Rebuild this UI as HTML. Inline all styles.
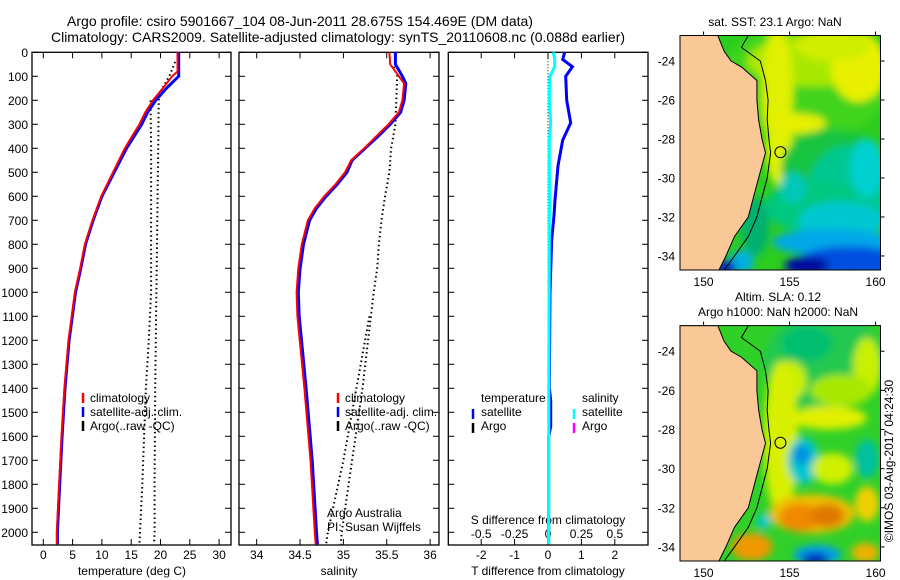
<!DOCTYPE html>
<html><head><meta charset="utf-8"><style>
html,body{margin:0;padding:0;background:#fff;}
svg{display:block;font-family:"Liberation Sans",sans-serif;}
</style></head><body>
<svg id="fig" width="900" height="580" viewBox="0 0 900 580" xmlns="http://www.w3.org/2000/svg">
<defs>
<filter id="blur1" x="-20%" y="-20%" width="140%" height="140%"><feGaussianBlur stdDeviation="4"/></filter>
<clipPath id="clipM1"><rect x="680" y="35.5" width="200.5" height="234.5"/></clipPath>
<clipPath id="clipM2"><rect x="680" y="325.6" width="200.5" height="235.4"/></clipPath>
</defs>
<text x="300" y="26" font-size="14" text-anchor="middle">Argo profile: csiro 5901667_104 08-Jun-2011 28.675S 154.469E (DM data)</text>
<text x="338" y="42" font-size="14" text-anchor="middle">Climatology: CARS2009. Satellite-adjusted climatology: synTS_20110608.nc (0.088d earlier)</text>
<g id="p1"></g>
<g id="p2"></g>
<g id="p3"></g>
<g id="m1"></g>
<g id="m2"></g>
<text x="775" y="26" font-size="12" text-anchor="middle">sat. SST: 23.1  Argo: NaN</text>
<text x="778" y="301" font-size="12" text-anchor="middle">Altim. SLA: 0.12</text>
<text x="778" y="316" font-size="12" text-anchor="middle">Argo h1000: NaN h2000: NaN</text>
<text transform="translate(893,461) rotate(-90)" font-size="12" text-anchor="middle">©IMOS 03-Aug-2017 04:24:30</text>
</svg>
<script>
// ---- data ----
const depthClim = [0,80,100,150,200,250,300,400,500,600,700,800,900,1000,1200,1400,1600,1800,2000,2050];
const tempClim = [22.9,22.9,22.0,20.4,18.7,17.4,16.4,13.9,11.9,9.9,8.4,7.1,6.3,5.4,4.3,3.6,3.1,2.7,2.3,2.3];
const tempSat  = [23.1,23.1,23.1,21.0,19.2,17.8,16.8,14.2,12.1,10.0,8.5,7.2,6.4,5.5,4.4,3.7,3.2,2.8,2.4,2.4];
const argoTDepth1 = [40,100,150,200,400,600,800,1000,1400,1800,2000,2050];
const argoT1 = [22.5,21.5,20.3,19.7,19.6,19.5,19.4,19.3,19.1,19.0,19.0,18.9];
const argoTDepth2 = [200,400,600,800,1000,1200,1400,1600,1800,2000,2050];
const argoT2 = [18.3,18.4,18.4,18.4,18.4,18.0,17.5,17.2,16.9,16.5,16.4];
const depthSal = [0,50,100,130,200,250,300,350,400,450,500,550,600,650,700,800,900,1000,1100,1400,1700,2000,2050];
const salClim = [35.53,35.54,35.64,35.70,35.68,35.64,35.52,35.38,35.24,35.09,35.02,34.91,34.78,34.67,34.59,34.52,34.48,34.46,34.47,34.55,34.62,34.67,34.68];
const salSat  = [35.60,35.60,35.68,35.72,35.70,35.66,35.54,35.40,35.25,35.10,35.04,34.93,34.80,34.69,34.61,34.54,34.50,34.48,34.49,34.57,34.64,34.69,34.70];
const argoSDepth1 = [60,100,200,300,400,500,600,700,800,900,1000,1400,1700,2000,2050];
const argoS1 = [35.58,35.62,35.61,35.60,35.55,35.53,35.48,35.44,35.41,35.39,35.35,35.22,35.10,34.98,34.97];
const argoSDepth2 = [1100,1400,1700,2000,2050];
const argoS2 = [35.30,35.15,35.00,34.82,34.80];
const diffDepth = [0,30,60,100,200,294,366,473,615,680,780,1000,1400,1450,1560,1600,2050];
const diffT = [0.50,0.44,0.73,0.53,0.56,0.68,0.44,0.30,0.21,0.18,0.11,0.06,0.04,0.08,0.08,0.02,0.02];
const diffS = [0.04,0.05,0.05,0.015,0.01,0.02,0.01,0.01,0.012,0.01,0.01,0.008,0.006,0.006,0.006,0.005,0.005];
const depthTicks = [0,100,200,300,400,500,600,700,800,900,1000,1100,1200,1300,1400,1500,1600,1700,1800,1900,2000];
const tempTicks = [0,5,10,15,20,25,30];
const salTicks = [34,34.5,35,35.5,36];
const tdTicks = [-2,-1,0,1,2];
const sdTicks = [-0.5,-0.25,0,0.25,0.5];
const sdLabels = ['-0.5','-0.25','0','0.25','0.5'];
const latTicks = [-24,-26,-28,-30,-32,-34];
const lonTicks = [150,155,160];
const coastLat = [-22.69,-23.5,-24,-24.3,-25,-26,-27,-28,-28.7,-30,-31,-32,-33,-34,-34.72];
const coastLon = [150.83,151.2,151.6,152.2,153.1,153.1,153.2,153.4,153.6,153.2,152.9,152.6,151.8,151.3,150.9];
const isoLat = [-22.69,-23.3,-24,-25,-26,-27,-28,-28.7,-30,-31,-32,-33,-34,-34.72];
const isoLon = [152.6,152.2,153.3,153.6,153.75,153.7,153.8,153.9,153.7,153.4,153.1,152.6,151.8,151.2];
const floatLon = 154.469, floatLat = -28.675;

// ---- helpers ----
const NS='http://www.w3.org/2000/svg';
function mk(parent, tag, attrs){const e=document.createElementNS(NS,tag);for(const k in attrs)e.setAttribute(k,attrs[k]);parent.appendChild(e);return e;}
const Y0=52.3, YB=545, KY=(532.3-52.3)/2000;
const yD = d => Y0 + d*KY;
const xT = v => 43.3 + v*5.86;
const xS = v => 256.7 + (v-34)*86.7;
const xTD = v => 548 + v*33.4;
const xSD = v => 548 + v*133.6;

function frame(g, x0, x1, name){
  const r = mk(g,'rect',{x:x0,y:Y0,width:x1-x0,height:YB-Y0,fill:'none',stroke:'#000','stroke-width':1.3});
  
  
  depthTicks.forEach(d=>{
    const t1=mk(g,'line',{x1:x0,x2:x0+6,y1:yD(d),y2:yD(d),stroke:'#000','stroke-width':1});
    
    
    const t2=mk(g,'line',{x1:x1-6,x2:x1,y1:yD(d),y2:yD(d),stroke:'#000','stroke-width':1});
    
    
  });
}
function xticks(g, ticks, labels, fx, by){
  ticks.forEach((v,i)=>{
    const a=mk(g,'line',{x1:fx(v),x2:fx(v),y1:Y0,y2:Y0+6,stroke:'#000','stroke-width':1});
    
    
    const b=mk(g,'line',{x1:fx(v),x2:fx(v),y1:YB-6,y2:YB,stroke:'#000','stroke-width':1});
    
    
    const t=mk(g,'text',{x:fx(v),y:by,'font-size':12,'text-anchor':'middle'});
    t.textContent=labels[i];
    
    
  });
}
function line(g, ds, vs, fx, color, w, dash, name){
  const pts = ds.map((d,i)=>fx(vs[i]).toFixed(1)+','+yD(d).toFixed(1)).join(' ');
  const p = mk(g,'polyline',{points:pts,fill:'none',stroke:color,'stroke-width':w});
  if(dash) p.setAttribute('stroke-dasharray',dash);
  
  
}
function txt(g,x,y,s,name,anchor){
  const t=mk(g,'text',{x:x,y:y,'font-size':12,'text-anchor':anchor||'start'});
  t.textContent=s;
  
  
  return t;
}
function legTick(g,x,y,color,name){
  const l=mk(g,'line',{x1:x,x2:x,y1:y-10,y2:y,stroke:color,'stroke-width':2.5});
  
  
}

// ---- panel 1 ----
const p1=document.getElementById('p1');
frame(p1,32,231,'temperature-panel');
depthTicks.forEach(d=>{txt(p1,28,yD(d)+4.5,String(d),'depth-tick-label','end');});
xticks(p1,tempTicks,tempTicks.map(String),xT,559);
txt(p1,132,575,'temperature (deg C)','temperature-axis-title','middle');
line(p1,argoTDepth1,argoT1,xT,'#000',2,'1.5,3','argo-temperature-raw');
line(p1,argoTDepth2,argoT2,xT,'#000',2,'1.5,3','argo-temperature-qc');
line(p1,depthClim,tempSat,xT,'#0000ff',3,null,'satellite-temperature-line');
line(p1,depthClim,tempClim,xT,'#ff0000',2,null,'climatology-temperature-line');
legTick(p1,83,403,'#ff0000','legend-climatology-swatch');
txt(p1,90,402,'climatology','legend-climatology');
legTick(p1,83,417,'#0000ff','legend-satellite-swatch');
txt(p1,90,416,'satellite-adj. clim.','legend-satellite');
legTick(p1,83,431,'#000','legend-argo-swatch');
txt(p1,90,430,'Argo(..raw -QC)','legend-argo');

// ---- panel 2 ----
const p2=document.getElementById('p2');
frame(p2,239,439,'salinity-panel');
xticks(p2,salTicks,salTicks.map(String),xS,559);
txt(p2,339,575,'salinity','salinity-axis-title','middle');
line(p2,argoSDepth1,argoS1,xS,'#000',2,'1.5,3','argo-salinity-raw');
line(p2,argoSDepth2,argoS2,xS,'#000',2,'1.5,3','argo-salinity-qc');
line(p2,depthSal,salSat,xS,'#0000ff',3,null,'satellite-salinity-line');
line(p2,depthSal,salClim,xS,'#ff0000',2,null,'climatology-salinity-line');
legTick(p2,338,403,'#ff0000','legend-climatology-swatch');
txt(p2,345,402,'climatology','legend-climatology');
legTick(p2,338,417,'#0000ff','legend-satellite-swatch');
txt(p2,345,416,'satellite-adj. clim.','legend-satellite');
legTick(p2,338,431,'#000','legend-argo-swatch');
txt(p2,345,430,'Argo(..raw -QC)','legend-argo');
txt(p2,327,517,'Argo Australia','credit-argo-australia');
txt(p2,327,531,'PI: Susan Wijffels','credit-pi');

// ---- panel 3 ----
const p3=document.getElementById('p3');
frame(p3,448.3,648,'difference-panel');
xticks(p3,tdTicks,tdTicks.map(String),xTD,559);
txt(p3,548,575,'T difference from climatology','t-diff-axis-title','middle');
txt(p3,548,524,'S difference from climatology','s-diff-axis-title','middle');
sdTicks.forEach((v,i)=>{txt(p3,xSD(v),538,sdLabels[i],'s-diff-tick-label','middle');});
line(p3,[0,2050],[0,0],xTD,'#000',1,'1,2','zero-line');
line(p3,diffDepth,diffT,xTD,'#0000ff',3,null,'temperature-diff-satellite');
line(p3,diffDepth,diffS,xSD,'#00ffff',3,null,'salinity-diff-satellite');
txt(p3,481,402,'temperature','legend-temperature-header');
legTick(p3,473,419,'#0000ff','legend-t-satellite-swatch');
txt(p3,481,416,'satellite','legend-t-satellite');
legTick(p3,473,433,'#000','legend-t-argo-swatch');
txt(p3,481,430,'Argo','legend-t-argo');
txt(p3,582,402,'salinity','legend-salinity-header');
legTick(p3,574,419,'#00ffff','legend-s-satellite-swatch');
txt(p3,582,416,'satellite','legend-s-satellite');
legTick(p3,574,433,'#ff00ff','legend-s-argo-swatch');
txt(p3,582,430,'Argo','legend-s-argo');

// ---- maps ----
const MX0=680, MX1=880.5, KX=17.2, LON0=148.63;
const mxf = lon => MX0 + (lon-LON0)*KX;
const sst1 = [ // lon, lat, rx(deg), ry(deg), color
 [156,-25,5,3,'#40d41a'],[156.5,-24,4,1.3,'#a8e800'],[159,-24.3,1.6,1.8,'#e8f000'],[157.5,-23.2,2.2,0.8,'#d0ee00'],
 [154.3,-25.5,0.9,3.2,'#e0f000'],[154.4,-28.4,0.8,2.0,'#e0f000'],[155.5,-27.2,1.6,0.5,'#e8f000'],
 [157.5,-29.5,3,2,'#18c440'],[158.5,-30.8,2.5,2.5,'#00c890'],[156.5,-31.5,3,1.3,'#00c880'],
 [159.5,-29.5,1,1.5,'#00d0d0'],[155.2,-30.5,0.8,0.8,'#00c8b8'],[158,-32.2,2.5,1,'#00c8d0'],
 [153,-32.5,0.8,1.5,'#00b070'],[157.5,-33.3,3.5,0.7,'#00a8e8'],[158.5,-34.3,3,0.8,'#0050e0'],
 [156,-34.5,1.3,0.5,'#0010a0'],[152.2,-34.3,0.7,0.6,'#00b0e0'],[151.3,-34.6,0.6,0.4,'#0020c0']
];
const sla2 = [
 [157,-24.5,3.5,2.5,'#20c850'],[156,-23.6,1.5,0.9,'#00c070'],[159.5,-24.8,0.8,1.5,'#c8f000'],
 [155,-25.5,1,1,'#c8f000'],[154.5,-28.5,1,4,'#d8f000'],[157.3,-27.4,2.2,0.6,'#e0f000'],[158,-26,1.8,0.8,'#a8e800'],
 [155.8,-29.6,0.9,1.2,'#00c8d0'],[155.7,-29.3,0.5,0.5,'#0090e0'],[157.5,-30,1.2,0.8,'#d0f000'],
 [156.3,-32.3,2.5,1,'#f0c000'],[155.6,-32.5,1.2,0.7,'#f08800'],[157.2,-32.4,1,0.6,'#e07800'],
 [153.5,-32.7,0.4,0.4,'#00c8d0'],[152.8,-34,1.2,0.7,'#f09800'],[159.5,-31.8,0.7,0.9,'#f0d000'],
 [156.6,-34.4,1.4,0.5,'#00a0e8'],[156.5,-34.6,0.8,0.3,'#0020c0'],[159.4,-34.3,0.8,0.5,'#f0b000'],
 [159.5,-29.5,0.7,1,'#00c0a0']
];
function drawMap(id, top, bot, clipId, blobs, base){
  const g=document.getElementById(id);
  const yf = lat => top + (-22.69 - lat)*((bot-top)/(34.72-22.69));
  const inner=mk(g,'g',{'clip-path':'url(#'+clipId+')'});
  const bg=mk(inner,'rect',{x:MX0,y:top,width:MX1-MX0,height:bot-top,fill:base});
  
  
  const bl=mk(inner,'g',{filter:'url(#blur1)'});
  blobs.forEach(b=>{
    const e=mk(bl,'ellipse',{cx:mxf(b[0]),cy:yf(b[1]),rx:b[2]*KX,ry:b[3]*(bot-top)/12.03,fill:b[4]});
    
    
  });
  const cp=[[LON0,-22.69]].concat(coastLat.map((la,i)=>[coastLon[i],la])).concat([[LON0,-34.72]]);
  const land=mk(inner,'polygon',{points:cp.map(p=>mxf(p[0]).toFixed(1)+','+yf(p[1]).toFixed(1)).join(' '),fill:'#f9c896',stroke:'#000','stroke-width':1});
  
  
  const iso=mk(inner,'polyline',{points:isoLat.map((la,i)=>mxf(isoLon[i]).toFixed(1)+','+yf(la).toFixed(1)).join(' '),fill:'none',stroke:'#000','stroke-width':1});
  
  
  const c=mk(g,'circle',{cx:mxf(floatLon),cy:yf(floatLat),r:5.5,fill:'none',stroke:'#000','stroke-width':1});
  
  
  const fr=mk(g,'rect',{x:MX0,y:top,width:MX1-MX0,height:bot-top,fill:'none',stroke:'#000','stroke-width':1});
  
  
  latTicks.forEach(la=>{
    txt(g,675,yf(la)+4.5,String(la),'latitude-tick-label','end');
    const a=mk(g,'line',{x1:MX1,x2:MX1+4,y1:yf(la),y2:yf(la),stroke:'#000'});
    
    
  });
  lonTicks.forEach(lo=>{
    txt(g,mxf(lo),bot+16,String(lo),'longitude-tick-label','middle');
    const a=mk(g,'line',{x1:mxf(lo),x2:mxf(lo),y1:top-4,y2:top,stroke:'#000'});
    
    
  });
}
drawMap('m1',35.5,270,'clipM1',sst1,'#2ccc20');
drawMap('m2',325.6,561,'clipM2',sla2,'#30d028');
</script>
</body></html>
